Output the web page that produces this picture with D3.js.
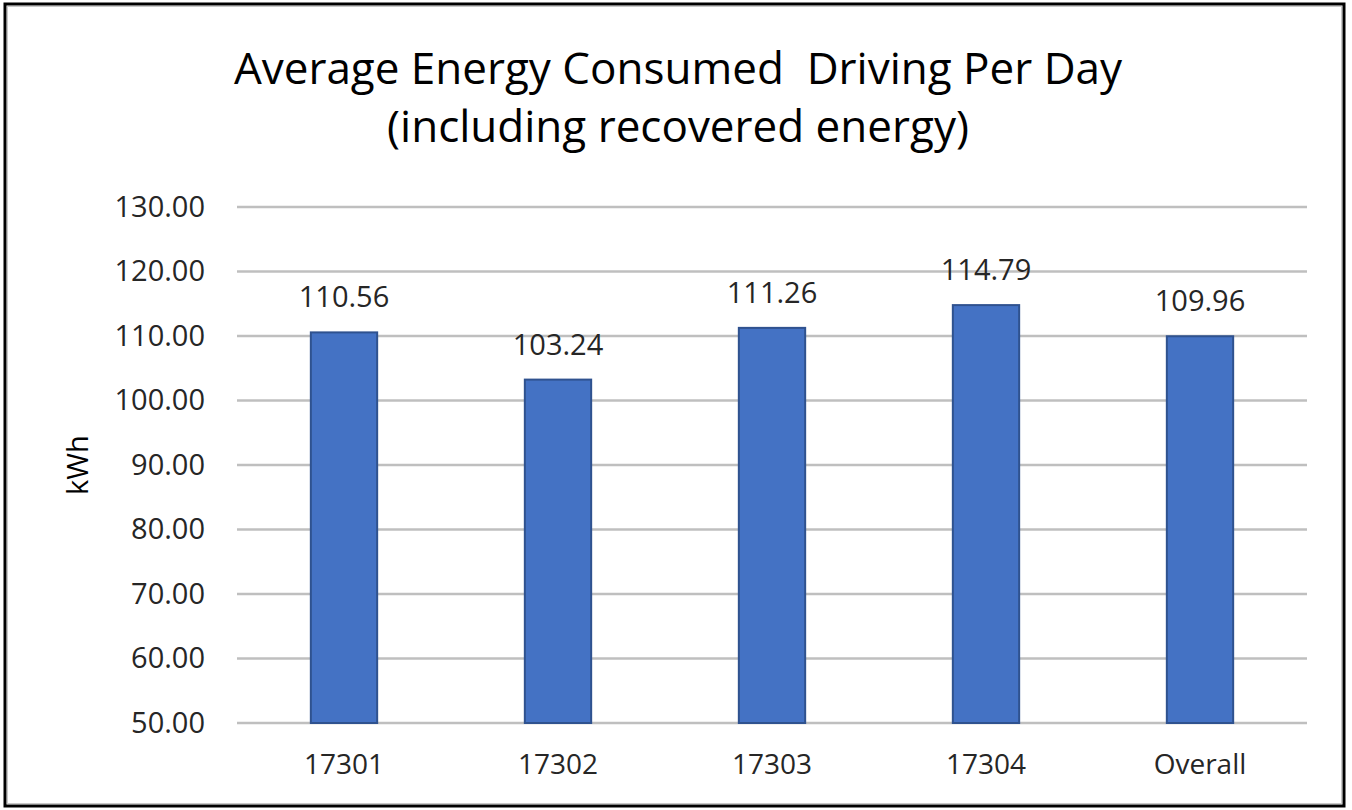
<!DOCTYPE html>
<html>
<head>
<meta charset="utf-8">
<script src="https://cdn.jsdelivr.net/npm/d3@7"></script>
<style>
  body { margin: 0; background: #fff; }
  text { font-family: "Open Sans", sans-serif; fill: #262626; }
</style>
</head>
<body>
<div id="chart"></div>
<script>
// data
var categories = ["17301", "17302", "17303", "17304", "Overall"];
var values = [110.56, 103.24, 111.26, 114.79, 109.96];
var yTicks = [50, 60, 70, 80, 90, 100, 110, 120, 130];
var titleLines = ["Average Energy Consumed  Driving Per Day", "(including recovered energy)"];

var svgWidth = 1352;
var svgHeight = 810;

var margin = { top: 207, right: 45, bottom: 87, left: 237 };
var width = svgWidth - margin.left - margin.right;
var height = svgHeight - margin.top - margin.bottom;

var svg = d3.select("#chart")
  .append("svg")
  .attr("width", svgWidth)
  .attr("height", svgHeight);

// outer frame
svg.append("rect")
  .attr("x", 5).attr("y", 4)
  .attr("width", 1339).attr("height", 802)
  .attr("fill", "#fff")
  .attr("stroke", "#000")
  .attr("stroke-width", 3);
svg.append("rect")
  .attr("x", 7.5).attr("y", 6.5)
  .attr("width", 1334).attr("height", 797)
  .attr("fill", "none")
  .attr("stroke", "#c8c8c8")
  .attr("stroke-width", 1);

// title
svg.selectAll(".title")
  .data(titleLines)
  .enter()
  .append("text")
  .attr("class", "title")
  .attr("x", 678)
  .attr("y", (d, i) => 84 + i * 58)
  .attr("text-anchor", "middle")
  .attr("font-size", "44px")
  .style("white-space", "pre")
  .style("fill", "#000")
  .text(d => d);

var chartGroup = svg.append("g")
  .attr("transform", `translate(${margin.left}, ${margin.top})`);

var xBandScale = d3.scaleBand()
  .domain(categories)
  .range([0, width])
  .paddingInner(0.69)
  .paddingOuter(0.345);

var yLinearScale = d3.scaleLinear()
  .domain([50, 130])
  .range([height, 0]);

// gridlines
chartGroup.selectAll(".grid")
  .data(yTicks)
  .enter()
  .append("line")
  .attr("class", "grid")
  .attr("x1", 0)
  .attr("x2", width)
  .attr("y1", d => yLinearScale(d))
  .attr("y2", d => yLinearScale(d))
  .attr("stroke", "#bfbfbf")
  .attr("stroke-width", 2.5);

// y tick labels
var leftAxis = d3.axisLeft(yLinearScale)
  .tickValues(yTicks)
  .tickFormat(d3.format(".2f"))
  .tickSize(0)
  .tickPadding(32);

var yAxisG = chartGroup.append("g").call(leftAxis);
yAxisG.select(".domain").remove();
yAxisG.selectAll("text")
  .attr("font-size", "29px")
  .attr("font-family", "Open Sans, sans-serif")
  .attr("fill", "#262626");

// x labels
var bottomAxis = d3.axisBottom(xBandScale)
  .tickSize(0)
  .tickPadding(31);

var xAxisG = chartGroup.append("g")
  .attr("transform", `translate(0, ${yLinearScale(50)})`)
  .call(bottomAxis);
xAxisG.select(".domain").remove();
xAxisG.selectAll("text")
  .attr("font-size", "28px")
  .attr("font-family", "Open Sans, sans-serif")
  .attr("fill", "#262626");

// bars
chartGroup.selectAll(".bar")
  .data(values)
  .enter()
  .append("rect")
  .attr("class", "bar")
  .attr("x", (d, i) => xBandScale(categories[i]))
  .attr("y", d => yLinearScale(d))
  .attr("width", xBandScale.bandwidth())
  .attr("height", d => yLinearScale(50) - yLinearScale(d))
  .attr("fill", "#4472c4")
  .attr("stroke", "#2f528f")
  .attr("stroke-width", 2);

// value labels
chartGroup.selectAll(".val")
  .data(values)
  .enter()
  .append("text")
  .attr("class", "val")
  .attr("x", (d, i) => xBandScale(categories[i]) + xBandScale.bandwidth() / 2)
  .attr("y", d => yLinearScale(d) - 25)
  .attr("text-anchor", "middle")
  .attr("font-size", "29px")
  .text(d => d.toFixed(2));

// y axis label
chartGroup.append("text")
  .attr("transform", "rotate(-90)")
  .attr("x", 0 - 258)
  .attr("y", 0 - 149)
  .attr("text-anchor", "middle")
  .attr("font-size", "29px")
  .style("fill", "#000")
  .text("kWh");
</script>
</body>
</html>
